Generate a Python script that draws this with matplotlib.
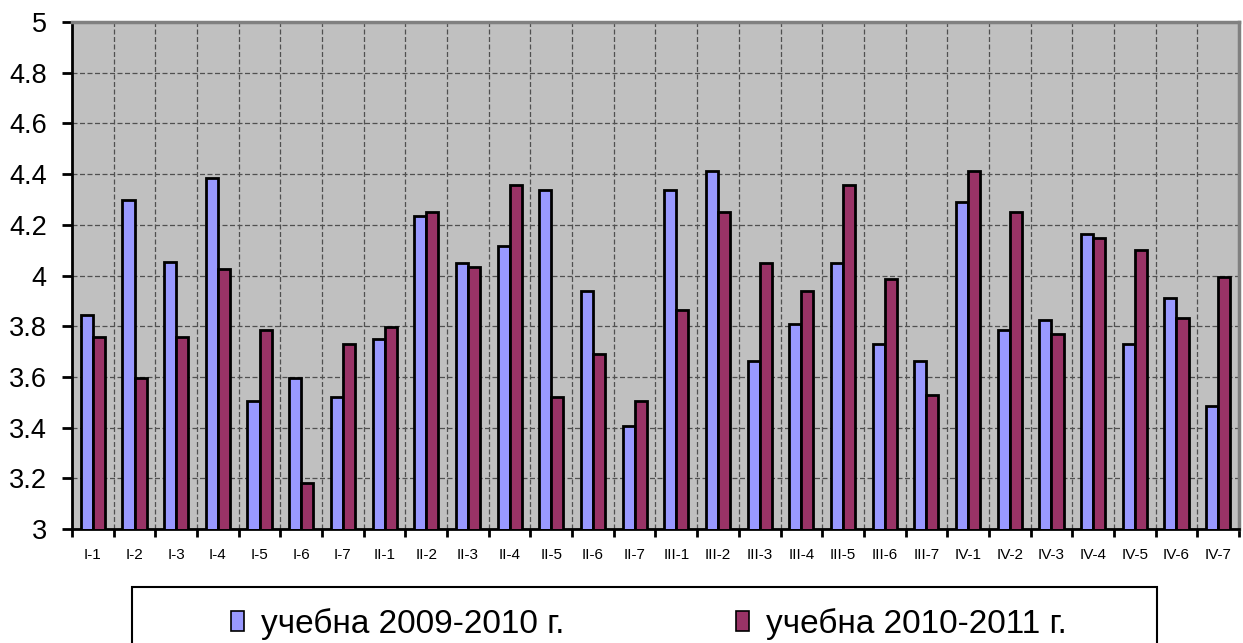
import matplotlib
matplotlib.use("Agg")
import matplotlib.pyplot as plt
from matplotlib.patches import Rectangle, Patch
import numpy as np

plt.rcParams['font.family'] = ['Liberation Sans', 'DejaVu Sans']

categories = ["I-1", "I-2", "I-3", "I-4", "I-5", "I-6", "I-7",
              "II-1", "II-2", "II-3", "II-4", "II-5", "II-6", "II-7",
              "III-1", "III-2", "III-3", "III-4", "III-5", "III-6", "III-7",
              "IV-1", "IV-2", "IV-3", "IV-4", "IV-5", "IV-6", "IV-7"]
series_2009 = [3.845, 4.299, 4.053, 4.384, 3.503, 3.597, 3.522,
               3.749, 4.233, 4.051, 4.118, 4.337, 3.938, 3.408,
               4.337, 4.412, 3.664, 3.807, 4.051, 3.730, 3.664,
               4.289, 3.786, 3.824, 4.164, 3.730, 3.911, 3.484]
series_2010 = [3.758, 3.597, 3.758, 4.025, 3.786, 3.180, 3.730,
               3.796, 4.251, 4.033, 4.357, 3.521, 3.692, 3.503,
               3.862, 4.251, 4.051, 3.938, 4.357, 3.986, 3.530,
               4.412, 4.251, 3.768, 4.147, 4.101, 3.834, 3.995]
labels = ["учебна 2009-2010 г.", "учебна 2010-2011 г."]
colors = ["#9999FF", "#993366"]
y_ticks = [3, 3.2, 3.4, 3.6, 3.8, 4, 4.2, 4.4, 4.6, 4.8, 5]
y_tick_labels = ["3", "3.2", "3.4", "3.6", "3.8", "4", "4.2", "4.4", "4.6", "4.8", "5"]

W, H = 1243, 643
fig = plt.figure(figsize=(W / 100, H / 100), dpi=100)
ax = fig.add_axes([72 / W, 1 - 529 / H, (1239 - 72) / W, (529 - 22) / H])
ax.set_facecolor("#C0C0C0")

x = np.arange(len(categories))
bw = 0.29
ax.bar(x - bw / 2, series_2009, width=bw, color=colors[0],
       edgecolor="black", linewidth=2.0, zorder=3)
ax.bar(x + bw / 2, series_2010, width=bw, color=colors[1],
       edgecolor="black", linewidth=2.0, zorder=3)

ax.set_ylim(3, 5)
ax.set_xlim(-0.5, len(categories) - 0.5)
ax.set_yticks(y_ticks)
ax.set_yticklabels(y_tick_labels, fontsize=19.5)

# category boundaries as major ticks (marks + grid), centres as minor ticks (labels)
ax.set_xticks(np.arange(len(categories) + 1) - 0.5)
ax.set_xticklabels([])
ax.set_xticks(x, minor=True)
ax.set_xticklabels(categories, minor=True, fontsize=11)
ax.tick_params(axis='x', which='major', direction='out', length=6, width=2, color='black')
ax.tick_params(axis='x', which='minor', length=0, pad=14)
ax.tick_params(axis='y', direction='out', length=7.2, width=2, pad=11)

ax.grid(True, which='major', axis='both', color='#505050', linestyle=(0, (4, 2)),
        linewidth=0.9, zorder=1)
ax.set_axisbelow(True)

for s in ['left', 'bottom']:
    ax.spines[s].set_color('black')
    ax.spines[s].set_linewidth(2)
for s in ['top', 'right']:
    ax.spines[s].set_color('#808080')
    ax.spines[s].set_linewidth(2.5)

# legend frame (extends below the figure edge)
fig.patches.append(Rectangle((132 / W, -0.1), (1157 - 132) / W, 0.1 + 1 - 587 / H,
                             transform=fig.transFigure, facecolor='white',
                             edgecolor='black', linewidth=1.5, zorder=0))
handles = [Patch(facecolor=colors[0], edgecolor='black', linewidth=1.2),
           Patch(facecolor=colors[1], edgecolor='black', linewidth=1.2)]
fs = 24
em = fs * 100 / 72
fig.legend(handles, labels, ncol=2, frameon=False, loc='center',
           bbox_to_anchor=(649 / W, 1 - 624 / H), fontsize=fs,
           handlelength=13 / em, handleheight=19 / em, handletextpad=17 / em,
           columnspacing=172 / em, borderpad=0, borderaxespad=0)

fig.savefig("out.png", dpi=100)
